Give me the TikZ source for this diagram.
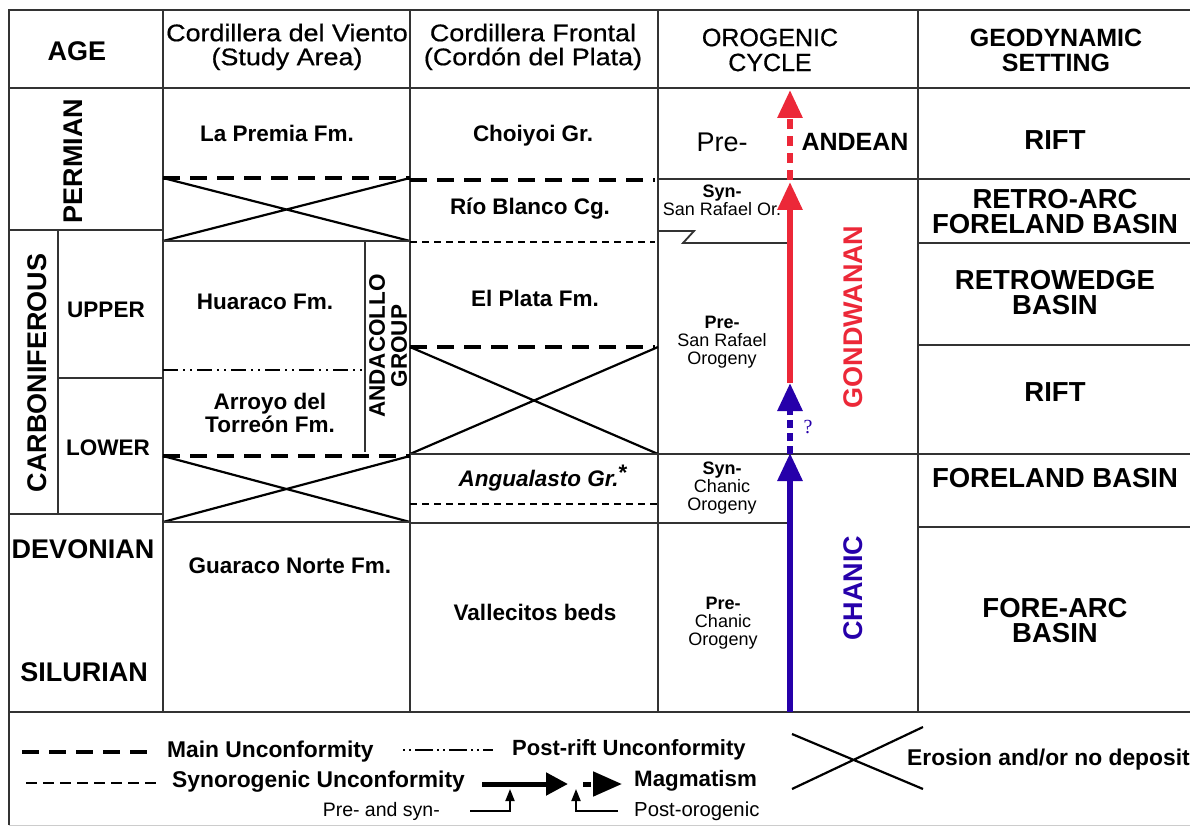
\documentclass[tikz,border=0pt]{standalone}
\usepackage{fontspec}
\setmainfont{Liberation Sans}
\newfontfamily\hdfont[FakeStretch=1.12,FakeBold=0.6]{Liberation Sans}
\newfontfamily\cyfont[FakeBold=0.6]{Liberation Sans}
\newfontfamily\qfont{Liberation Serif}
\usetikzlibrary{arrows.meta}

\definecolor{chanicblue}{RGB}{38,0,170}
\definecolor{gondred}{RGB}{236,40,56}

\newcommand{\agefont}{\fontsize{27}{28}\selectfont\bfseries}
\newcommand{\fmfont}{\fontsize{22.5}{23}\selectfont\bfseries}
\newcommand{\setfont}{\fontsize{27.5}{25}\selectfont\bfseries}
\newcommand{\orofont}{\fontsize{18}{18}\selectfont}
\newcommand{\legfont}{\fontsize{22.8}{24}\selectfont\bfseries}

\begin{document}
\begin{tikzpicture}[x=1pt,y=-1pt,
    tabline/.style={line width=1.8pt, draw=black!80},
    mainunc/.style={line width=4.5pt, dash pattern=on 17pt off 10pt},
    synunc/.style={line width=1.6pt, dash pattern=on 7pt off 5pt},
    postrift/.style={line width=1.4pt, dash pattern=on 15pt off 5pt on 2pt off 5pt on 2pt off 5pt},
    erosion/.style={line width=2.2pt},
    magma/.style={line width=6pt, -{Triangle[width=24pt,length=28pt]}},
    txt/.style={inner sep=0pt, align=center},
  ]
  \useasboundingbox (0,0) rectangle (1190,826);

  % frame and columns
  \draw[tabline] (9,825) -- (9,10) -- (1190,10);
  \draw[tabline] (9,88) -- (1190,88);
  \draw[tabline] (9,712) -- (1190,712);
  \draw[black!20, line width=1pt] (9,825) -- (1190,825);
  \foreach \x in {163,410,658,918}
    \draw[tabline] (\x,10) -- (\x,712);

  % age column
  \draw[tabline] (9,230) -- (163,230);
  \draw[tabline] (58,378) -- (163,378);
  \draw[tabline] (9,514) -- (163,514);
  \draw[tabline] (58,230) -- (58,514);

  % Cordillera del Viento
  \draw[mainunc] (163,178) -- (410,178);
  \draw[erosion] (163,178) -- (410,241) (163,241) -- (410,178);
  \draw[tabline] (163,241) -- (410,241);
  \draw[tabline] (365,241) -- (365,452);
  \draw[postrift] (163,370) -- (362,370);
  \draw[mainunc] (163,456) -- (410,456);
  \draw[erosion] (163,456) -- (410,522) (163,522) -- (410,456);
  \draw[tabline] (163,522) -- (410,522);

  % Cordillera Frontal
  \draw[mainunc] (410,180) -- (655,180);
  \draw[synunc] (410,242) -- (655,242);
  \draw[mainunc] (410,347) -- (655,347);
  \draw[erosion] (410,347) -- (658,454) (410,454) -- (658,347);
  \draw[tabline] (410,454) -- (1190,454);
  \draw[synunc] (410,504) -- (658,504);
  \draw[tabline] (410,523) -- (790,523);

  % orogenic cycle and setting
  \draw[tabline] (658,179) -- (1190,179);
  \draw[tabline] (658,231) -- (694,231) -- (683,243) -- (790,243);
  \draw[tabline] (918,243) -- (1190,243);
  \draw[tabline] (918,345) -- (1190,345);
  \draw[tabline] (918,527) -- (1190,527);

  % magmatism arrows
  \coordinate (andtop) at (790,90);
  \coordinate (andbase) at (790,180);
  \coordinate (gondtop) at (790,182);
  \coordinate (gondbase) at (790,383);
  \coordinate (chantop) at (790,453);
  \coordinate (chanbase) at (790,712);
  \draw[magma, gondred, dash pattern=on 10pt off 7pt] (andbase) -- (andtop);
  \draw[magma, gondred] (gondbase) -- (gondtop);
  \draw[magma, chanicblue, dash pattern=on 8pt off 5pt] (790,454) -- (gondbase);
  \draw[magma, chanicblue] (chanbase) -- (chantop);
  \node (qmark) at (808,427) [txt, text=chanicblue, font=\qfont\fontsize{20}{20}\selectfont] {?};

  % headers
  \node (age) at (77,51) [txt, font=\fontsize{27}{28}\selectfont\bfseries] {AGE};
  \node (viento) at (287,47) [txt, font=\hdfont\fontsize{24}{24}\selectfont] {Cordillera del Viento\\(Study Area)};
  \node (frontal) at (533,47) [txt, font=\hdfont\fontsize{24}{24}\selectfont] {Cordillera Frontal\\(Cordón del Plata)};
  \node (cycle) at (770,50) [txt, font=\cyfont\fontsize{25}{25}\selectfont] {OROGENIC\\CYCLE};
  \node (setting) at (1056,50) [txt, font=\fontsize{25}{25}\selectfont\bfseries] {GEODYNAMIC\\SETTING};

  % ages
  \node (permian) at (73,161) [txt, rotate=90, font=\agefont] {PERMIAN};
  \node (carbon) at (37,373) [txt, rotate=90, font=\agefont] {CARBONIFEROUS};
  \node (upper) at (106,310) [txt, font=\fmfont] {UPPER};
  \node (lower) at (108,448) [txt, font=\fmfont] {LOWER};
  \node (devonian) at (83,549) [txt, font=\agefont] {DEVONIAN};
  \node (silurian) at (84,672) [txt, font=\agefont] {SILURIAN};

  % Cordillera del Viento units
  \node (premia) at (277,133) [txt, font=\fmfont] {La Premia Fm.};
  \node (huaraco) at (265,302) [txt, font=\fmfont] {Huaraco Fm.};
  \node (torreon) at (270,413) [txt, font=\fmfont] {Arroyo del\\Torreón Fm.};
  \node (andacollo) at (388,346) [txt, rotate=90, font=\fontsize{22.5}{22}\selectfont\bfseries] {ANDACOLLO\\GROUP};
  \node (guaraco) at (290,566) [txt, font=\fmfont] {Guaraco Norte Fm.};

  % Cordillera Frontal units
  \node (choiyoi) at (533,136) [txt, font=\fmfont] {Choiyoi Gr.};
  \node (rioblanco) at (530,209) [txt, font=\fmfont] {Río Blanco Cg.};
  \node (elplata) at (535,298) [txt, font=\fmfont] {El Plata Fm.};
  \node (angualasto) at (543,478) [txt, font=\fmfont] {\itshape Angualasto Gr.\raisebox{0.3em}{\upshape *}};
  \node (vallecitos) at (535,612) [txt, font=\fmfont] {Vallecitos beds};

  % orogenic cycle
  \node (preand) at (722,142) [txt, font=\fontsize{27}{27}\selectfont] {Pre-};
  \node (andean) at (855,142) [txt, font=\fontsize{25}{25}\selectfont\bfseries] {ANDEAN};
  \node (synsr) at (722,200) [txt, font=\orofont] {\textbf{Syn-}\\San Rafael Or.};
  \node (presr) at (722,342) [txt, font=\orofont] {\textbf{Pre-}\\San Rafael\\Orogeny};
  \node (synch) at (722,488) [txt, font=\orofont] {\textbf{Syn-}\\Chanic\\Orogeny};
  \node (prech) at (723,623) [txt, font=\orofont] {\textbf{Pre-}\\Chanic\\Orogeny};
  \node (gondwanan) at (853,317) [txt, rotate=90, text=gondred, font=\agefont] {GONDWANAN};
  \node (chanic) at (853,588) [txt, rotate=90, text=chanicblue, font=\agefont] {CHANIC};

  % geodynamic setting
  \node (rift1) at (1055,140) [txt, font=\setfont] {RIFT};
  \node (retroarc) at (1055,212) [txt, font=\setfont] {RETRO-ARC\\FORELAND BASIN};
  \node (retrowedge) at (1055,293) [txt, font=\setfont] {RETROWEDGE\\BASIN};
  \node (rift2) at (1055,392) [txt, font=\setfont] {RIFT};
  \node (foreland) at (1055,478) [txt, font=\setfont] {FORELAND BASIN};
  \node (forearc) at (1055,621) [txt, font=\setfont] {FORE-ARC\\BASIN};

  % legend
  \draw[mainunc] (22,752) -- (150,752);
  \node (legmain) at (167,752) [txt, anchor=west, font=\legfont] {Main Unconformity};
  \draw[postrift, dash pattern=on 2pt off 4pt on 2pt off 4pt on 18pt off 4pt] (403,750) -- (493,750);
  \node (legpost) at (512,750) [txt, anchor=west, font=\fontsize{22}{24}\selectfont\bfseries] {Post-rift Unconformity};
  \draw[synunc, dash pattern=on 11pt off 6pt] (26,783) -- (160,783);
  \node (legsyn) at (172,782) [txt, anchor=west, font=\legfont] {Synorogenic Unconformity};
  \draw[line width=5pt, -{Triangle[width=22pt,length=22pt]}] (482,784) -- (568,784);
  \draw[line width=5pt, dash pattern=on 8pt off 10pt, -{Triangle[width=24pt,length=29pt]}] (583,784) -- (622,784);
  \node (legmag) at (634,781) [txt, anchor=west, font=\fontsize{22.3}{24}\selectfont\bfseries] {Magmatism};
  \node (legpre) at (440,811) [txt, anchor=east, font=\fontsize{19.5}{20}\selectfont] {Pre- and syn-};
  \node (legpostoro) at (634,811) [txt, anchor=west, font=\fontsize{20.3}{20}\selectfont] {Post-orogenic};
  \draw[line width=1.8pt, -{Triangle[width=9pt,length=12pt]}] (470,811) -- (510,811) -- (510,789);
  \draw[line width=1.8pt, -{Triangle[width=9pt,length=12pt]}] (618,811) -- (576,811) -- (576,789);
  \draw[erosion] (792,734) -- (923,789) (792,789) -- (923,727);
  \node (legero) at (907,760) [txt, anchor=west, font=\legfont] {Erosion and/or no deposit};
\end{tikzpicture}
\end{document}
